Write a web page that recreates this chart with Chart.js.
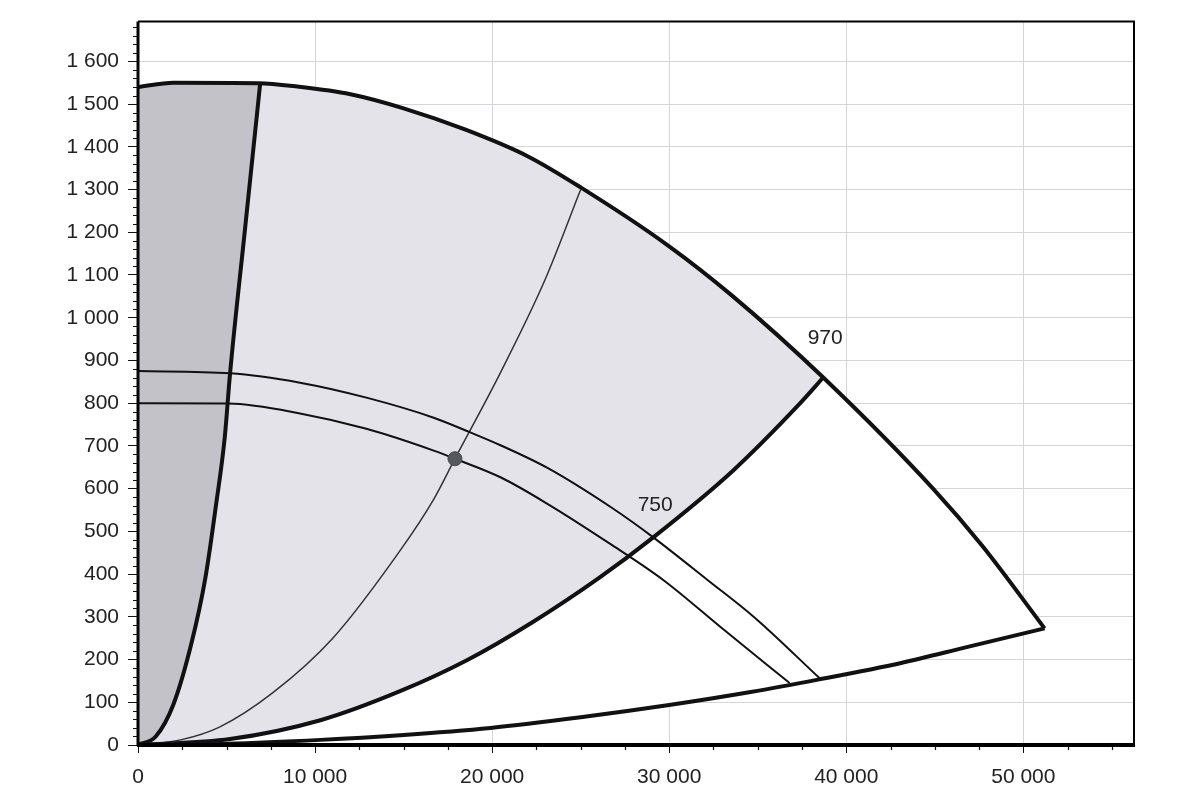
<!DOCTYPE html>
<html>
<head>
<meta charset="utf-8">
<script src="https://cdn.jsdelivr.net/npm/chart.js@4.4.1/dist/chart.umd.min.js"></script>
<style>
  html, body { margin: 0; background: #fff; }
  #wrap { width: 1200px; height: 805px; }
</style>
</head>
<body>
<div id="wrap"><canvas id="fanChart"></canvas></div>
<script>
// flow Q (m3/h) against pressure (Pa)

// 970 rpm curve (upper limit)
const maxSpeedQ = [0, 2000, 6800, 9000, 12000, 15000, 18500, 22000, 25000, 29900, 33600, 38700, 44900, 47700, 51200];
const maxSpeedP = [1540, 1550, 1549, 1541, 1523, 1490, 1440, 1378, 1305, 1170, 1050, 860, 600, 465, 273];

// steep left limit
const leftLimitQ = [0, 1000, 2000, 3000, 3800, 4400, 4900, 5200, 6050, 6900];
const leftLimitP = [0, 20, 95, 235, 390, 560, 720, 870, 1210, 1548];

// middle limit (between grey and white zones)
const midLimitQ = [0, 5200, 10300, 14800, 18600, 22300, 26000, 29100, 33600, 37400, 38700];
const midLimitP = [0, 14, 58, 126, 199, 288, 390, 486, 642, 800, 860];

// lower limit
const lowLimitQ = [0, 5000, 10300, 14800, 19900, 25000, 29900, 34600, 38400, 43100, 46800, 51200];
const lowLimitP = [0, 3, 12, 23, 40, 65, 93, 124, 153, 192, 229, 273];

// system curve through the duty point
const systemQ = [0, 2400, 4600, 7600, 11000, 14800, 16700, 17900, 20500, 23000, 25000];
const systemP = [0, 12, 42, 122, 250, 455, 575, 670, 874, 1090, 1300];

// 750 curves (two diameters)
const upper750Q = [0, 5200, 9150, 12900, 16700, 18800, 20500, 23100, 26800, 29100, 32200, 34800, 38500];
const upper750P = [875, 870, 848, 813, 766, 731, 701, 649, 554, 486, 385, 299, 156];
const lower750Q = [0, 5100, 9150, 12900, 16700, 17900, 20500, 23100, 26800, 29700, 32900, 36800];
const lower750P = [800, 799, 776, 740, 689, 670, 626, 565, 467, 385, 276, 145];

// duty point
const dutyQ = [17900];
const dutyP = [670];

// axis ticks
const xTicks = [0, 10000, 20000, 30000, 40000, 50000];
const yTicks = [0, 100, 200, 300, 400, 500, 600, 700, 800, 900, 1000, 1100, 1200, 1300, 1400, 1500, 1600];

const curveLabels = [
  { text: '970', q: 38810, p: 951 },
  { text: '750', q: 29210, p: 561 }
];

const pts = (xs, ys) => xs.map((x, i) => ({ x: x, y: ys[i] }));
const fmt = v => String(Math.round(v)).replace(/\B(?=(\d{3})+(?!\d))/g, ' ');

const leftEnd = leftLimitQ[leftLimitQ.length - 1];
const midEnd = midLimitQ[midLimitQ.length - 1];
const topPts = pts(maxSpeedQ, maxSpeedP);

const darkZone = [...pts(leftLimitQ, leftLimitP), ...topPts.filter(p => p.x < leftEnd).reverse()];
const lightZone = [...pts(leftLimitQ, leftLimitP), ...topPts.filter(p => p.x > leftEnd && p.x < midEnd), ...pts(midLimitQ, midLimitP).reverse()];
const whiteZone = [...pts(midLimitQ, midLimitP), ...topPts.filter(p => p.x > midEnd), ...pts(lowLimitQ, lowLimitP).reverse()];

function zone(data, color) {
  return { data: data, showLine: true, fill: 'shape', backgroundColor: color, borderColor: 'transparent',
    borderWidth: 0, pointRadius: 0, tension: 0, order: 10 };
}
function curve(data, width, color) {
  return { data: data, showLine: true, fill: false, borderColor: color || '#111', borderWidth: width,
    pointRadius: 0, cubicInterpolationMode: 'monotone', order: 2 };
}

// minor ticks, frame and curve labels
const extras = {
  id: 'extras',
  afterDatasetsDraw(chart) {
    const ctx = chart.ctx;
    const xs = chart.scales.x, ys = chart.scales.y;
    const a = chart.chartArea;
    ctx.save();
    ctx.strokeStyle = '#111';
    ctx.lineWidth = 1.2;
    ctx.beginPath();
    for (let v = 0; v <= ys.max; v += 20) {
      if (v % 100 === 0) continue;
      const y = Math.round(ys.getPixelForValue(v)) + 0.5;
      ctx.moveTo(a.left - 5, y); ctx.lineTo(a.left, y);
    }
    for (let v = 0; v <= xs.max; v += 2500) {
      if (v % 10000 === 0) continue;
      const x = Math.round(xs.getPixelForValue(v)) + 0.5;
      ctx.moveTo(x, a.bottom); ctx.lineTo(x, a.bottom + 5);
    }
    ctx.stroke();

    ctx.strokeStyle = '#000';
    ctx.lineWidth = 2;
    ctx.beginPath();
    ctx.moveTo(a.left, a.top); ctx.lineTo(a.right, a.top); ctx.lineTo(a.right, a.bottom);
    ctx.stroke();
    ctx.lineWidth = 3;
    ctx.beginPath();
    ctx.moveTo(a.left, a.top); ctx.lineTo(a.left, a.bottom + 1);
    ctx.stroke();
    ctx.lineWidth = 4;
    ctx.beginPath();
    ctx.moveTo(a.left - 1, a.bottom); ctx.lineTo(a.right + 1, a.bottom);
    ctx.stroke();

    ctx.fillStyle = '#222';
    ctx.font = '21px "Liberation Sans", Arial, sans-serif';
    ctx.textAlign = 'center';
    ctx.textBaseline = 'middle';
    curveLabels.forEach(l => ctx.fillText(l.text, xs.getPixelForValue(l.q), ys.getPixelForValue(l.p)));
    ctx.restore();
  }
};

Chart.defaults.font.family = '"Liberation Sans", Arial, sans-serif';
Chart.defaults.font.size = 21;
Chart.defaults.color = '#222';

new Chart(document.getElementById('fanChart'), {
  type: 'scatter',
  data: {
    datasets: [
      { data: pts(dutyQ, dutyP), pointRadius: 7, pointBackgroundColor: '#55585e', pointBorderColor: '#44474c', order: 0 },
      curve(pts(maxSpeedQ, maxSpeedP), 4),
      curve(pts(leftLimitQ, leftLimitP), 4),
      curve(pts(midLimitQ, midLimitP), 4),
      curve(pts(lowLimitQ, lowLimitP), 4),
      curve(pts(upper750Q, upper750P), 2),
      curve(pts(lower750Q, lower750P), 2),
      curve(pts(systemQ, systemP), 1.5, '#333'),
      zone(whiteZone, '#ffffff'),
      zone(lightZone, '#e3e3e9'),
      zone(darkZone, '#c2c2c8')
    ]
  },
  options: {
    responsive: true,
    maintainAspectRatio: false,
    animation: false,
    layout: { padding: { top: 20, right: 66, left: 0, bottom: 0 } },
    plugins: { legend: { display: false }, tooltip: { enabled: false } },
    scales: {
      x: {
        type: 'linear', min: 0, max: 56250,
        afterFit: s => { s.height = 60; },
        afterBuildTicks: s => { s.ticks = xTicks.map(v => ({ value: v })); },
        grid: { color: '#d4d4d9', lineWidth: 1, tickColor: '#111', tickLength: 8 },
        border: { display: false },
        ticks: { autoSkip: false, maxRotation: 0, padding: 12, callback: v => fmt(v) }
      },
      y: {
        type: 'linear', min: 0, max: 1693,
        afterFit: s => { s.width = 138; },
        afterBuildTicks: s => { s.ticks = yTicks.map(v => ({ value: v })); },
        grid: { color: '#d4d4d9', lineWidth: 1, tickColor: '#111', tickLength: 10 },
        border: { display: false },
        ticks: { autoSkip: false, padding: 9, callback: v => fmt(v) }
      }
    }
  },
  plugins: [extras]
});
</script>
</body>
</html>
